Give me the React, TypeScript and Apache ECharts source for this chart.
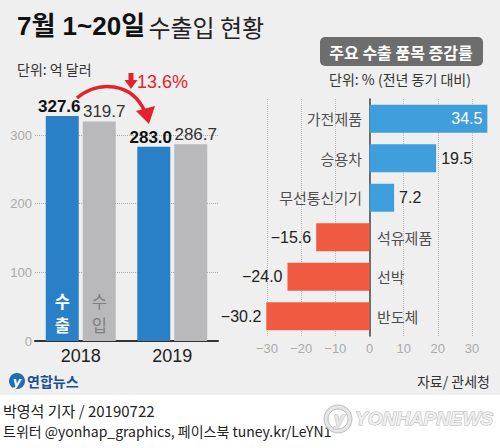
import React, { useEffect, useRef } from "react";
import * as echarts from "echarts";

const years = ["2018", "2019"];
const exportsVal = [327.6, 283.0];
const importsVal = [319.7, 286.7];
const items = ["가전제품", "승용차", "무선통신기기", "석유제품", "선박", "반도체"];
const changes = [34.5, 19.5, 7.2, -15.6, -24.0, -30.2];
const dropText = "13.6%";

const NF = "'Liberation Sans','Noto Sans CJK KR',sans-serif";
const KF = "'Noto Sans CJK KR',sans-serif";
const BLUE = "#2a80c6";
const GRAY = "#b9b9bb";
const POS = "#3f9fdc";
const NEG = "#f05a40";
const RED = "#e3232b";

const fmt = (v: number) => (v < 0 ? "\u2212" + Math.abs(v).toFixed(1) : v.toFixed(1));

export default function App() {
  const ref = useRef<HTMLDivElement>(null);
  useEffect(() => {
    const chart = echarts.init(ref.current!, undefined, { renderer: "svg" });
    const option: any = {
      animation: false,
      backgroundColor: "#efefef",
      grid: [
        { left: 35, width: 183, top: 135, height: 206 },
        { left: 267, width: 205, top: 99, height: 237 },
      ],
      xAxis: [
        {
          type: "category",
          gridIndex: 0,
          data: years,
          axisLine: { lineStyle: { color: "#333", width: 2 } },
          axisTick: { show: false },
          axisLabel: { fontSize: 18, color: "#222", margin: 6, fontFamily: NF },
        },
        {
          type: "value",
          gridIndex: 1,
          min: -30,
          max: 30,
          interval: 10,
          axisLine: { show: false },
          axisTick: { show: false },
          axisLabel: {
            fontSize: 13,
            color: "#aaa",
            margin: 6,
            fontFamily: NF,
            formatter: (v: number) => (v < 0 ? "\u2212" + Math.abs(v) : String(v)),
          },
          splitLine: { lineStyle: { type: "dotted", color: "#bbb" } },
        },
      ],
      yAxis: [
        {
          type: "value",
          gridIndex: 0,
          min: 0,
          max: 300,
          interval: 100,
          axisLine: { show: false },
          axisTick: { show: false },
          axisLabel: { fontSize: 13, color: "#aaa", margin: 3, fontFamily: NF },
          splitLine: { lineStyle: { type: "dotted", color: "#aaa" } },
        },
        {
          type: "category",
          gridIndex: 1,
          data: items,
          inverse: true,
          axisLine: { show: true, onZero: true, lineStyle: { color: "#444", width: 1.5 } },
          axisTick: { show: false },
          axisLabel: { show: false },
          splitLine: { show: false },
        },
      ],
      series: [
        {
          type: "bar",
          xAxisIndex: 0,
          yAxisIndex: 0,
          data: exportsVal,
          barWidth: 33,
          barGap: "12%",
          clip: false,
          itemStyle: { color: BLUE },
          label: {
            show: true,
            position: "top",
            distance: 1,
            offset: [-3, 0],
            fontSize: 17,
            fontWeight: "bold",
            color: "#111",
            fontFamily: NF,
            formatter: (p: any) => p.value.toFixed(1),
          },
        },
        {
          type: "bar",
          xAxisIndex: 0,
          yAxisIndex: 0,
          data: importsVal,
          barWidth: 33,
          clip: false,
          itemStyle: { color: GRAY },
          label: {
            show: true,
            position: "top",
            distance: 1,
            offset: [5, 0],
            fontSize: 17,
            color: "#333",
            fontFamily: NF,
            formatter: (p: any) => p.value.toFixed(1),
          },
        },
        {
          type: "bar",
          xAxisIndex: 1,
          yAxisIndex: 1,
          barWidth: 28,
          clip: false,
          data: changes.map((v, i) => ({
            value: v,
            itemStyle: { color: v >= 0 ? POS : NEG },
            label: {
              position: i === 0 ? "insideRight" : v >= 0 ? "right" : "left",
              color: i === 0 ? "#fff" : "#222",
              distance: 5,
            },
          })),
          label: {
            show: true,
            fontSize: 16,
            fontFamily: NF,
            formatter: (p: any) => fmt(p.value),
          },
        },
        {
          type: "scatter",
          xAxisIndex: 1,
          yAxisIndex: 1,
          symbolSize: 1,
          itemStyle: { color: "rgba(0,0,0,0)" },
          data: items.map((n, i) => ({
            value: [0, i],
            name: n,
            label: { position: changes[i] >= 0 ? "left" : "right" },
          })),
          label: {
            show: true,
            distance: 7,
            fontSize: 15,
            color: "#222",
            fontFamily: KF,
            formatter: (p: any) => p.name,
          },
        },
      ],
    };
    chart.setOption(option);

    const c0 = chart.convertToPixel({ xAxisIndex: 0 }, years[0]) as number;
    const y0 = chart.convertToPixel({ yAxisIndex: 0 }, 0) as number;
    const off = 18.5;
    const ex = c0 - off;
    const im = c0 + off;

    const barChar = (ch: string, x: number, y: number, bold: boolean, fill: string) => ({
      type: "text",
      z: 100,
      x,
      y,
      style: {
        text: ch,
        fontSize: 16.5,
        fontWeight: bold ? "bold" : "normal",
        fill,
        align: "center",
        verticalAlign: "middle",
        fontFamily: KF,
      },
    });

    chart.setOption({
      graphic: [
        {
          type: "text",
          left: 17,
          top: 13,
          style: {
            text: "{a|7월 1~20일} {b|수출입 현황}",
            rich: {
              a: { fontSize: 26, fontWeight: "bold", fill: "#111", fontFamily: NF },
              b: { fontSize: 24, fill: "#222", fontFamily: KF },
            },
          },
        },
        {
          type: "text",
          left: 17,
          top: 62,
          style: { text: "단위: 억 달러", fontSize: 14, fill: "#333", fontFamily: KF },
        },
        // drop arrow
        {
          type: "bezierCurve",
          z: 50,
          shape: { x1: 77, y1: 98, cpx1: 98, cpy1: 80, cpx2: 132, cpy2: 82, x2: 145, y2: 112 },
          style: { stroke: RED, lineWidth: 3.5, fill: null },
        },
        {
          type: "polygon",
          z: 50,
          shape: { points: [[136, 111], [155, 106], [149, 124]] },
          style: { fill: RED },
        },
        {
          type: "rect",
          shape: { x: 128.5, y: 73, width: 5, height: 8 },
          style: { fill: RED },
        },
        {
          type: "polygon",
          shape: { points: [[124.5, 80], [137.5, 80], [131, 89]] },
          style: { fill: RED },
        },
        {
          type: "text",
          x: 137,
          y: 82,
          style: {
            text: dropText,
            fontSize: 18,
            fill: RED,
            fontFamily: NF,
            verticalAlign: "middle",
          },
        },
        // labels inside bars
        barChar("수", ex, y0 - 40, true, "#fff"),
        barChar("출", ex, y0 - 16, true, "#fff"),
        barChar("수", im, y0 - 40, false, "#808080"),
        barChar("입", im, y0 - 16, false, "#808080"),
        // right header
        {
          type: "rect",
          shape: { x: 320, y: 37, width: 163, height: 29, r: 5 },
          style: { fill: "#6d6d6d" },
        },
        {
          type: "text",
          x: 401,
          y: 52,
          style: {
            text: "주요 수출 품목 증감률",
            fontSize: 16,
            fontWeight: "bold",
            fill: "#fff",
            align: "center",
            verticalAlign: "middle",
            fontFamily: KF,
          },
        },
        {
          type: "text",
          x: 400,
          y: 79,
          style: {
            text: "단위: % (전년 동기 대비)",
            fontSize: 14,
            fill: "#333",
            align: "center",
            verticalAlign: "middle",
            fontFamily: KF,
          },
        },
        {
          type: "text",
          x: 490,
          y: 381,
          style: {
            text: "자료/ 관세청",
            fontSize: 14,
            fill: "#333",
            align: "right",
            verticalAlign: "middle",
            fontFamily: KF,
          },
        },
        // logo
        {
          type: "circle",
          shape: { cx: 17, cy: 381, r: 8 },
          style: { fill: "#1d6fb8" },
        },
        {
          type: "text",
          x: 17,
          y: 381,
          style: {
            text: "y",
            fontSize: 13,
            fontStyle: "italic",
            fontWeight: "bold",
            fill: "#fff",
            align: "center",
            verticalAlign: "middle",
            fontFamily: "DejaVu Sans",
          },
        },
        {
          type: "text",
          x: 27,
          y: 381,
          style: {
            text: "연합뉴스",
            fontSize: 14,
            fontWeight: "bold",
            fill: "#1b4f94",
            verticalAlign: "middle",
            fontFamily: KF,
          },
        },
        // footer
        {
          type: "rect",
          shape: { x: 0, y: 395, width: 500, height: 53 },
          style: { fill: "#ffffff" },
        },
        {
          type: "text",
          x: 3,
          y: 410,
          style: {
            text: "박영석 기자 / 20190722",
            fontSize: 15,
            fill: "#222",
            verticalAlign: "middle",
            fontFamily: KF,
          },
        },
        {
          type: "text",
          x: 3,
          y: 431,
          style: {
            text: "트위터 @yonhap_graphics, 페이스북 tuney.kr/LeYN1",
            fontSize: 14,
            fill: "#222",
            verticalAlign: "middle",
            fontFamily: KF,
          },
        },
        {
          type: "ring",
          shape: { cx: 338, cy: 419, r: 14, r0: 10 },
          style: { fill: "#e6e6e6", stroke: "#bdbdbd", lineWidth: 1 },
        },
        {
          type: "text",
          x: 339,
          y: 419,
          style: {
            text: "y",
            fontSize: 17,
            fontStyle: "italic",
            fontWeight: "bold",
            fill: "#e6e6e6",
            stroke: "#bdbdbd",
            lineWidth: 1,
            align: "center",
            verticalAlign: "middle",
            fontFamily: "DejaVu Sans",
          },
        },
        {
          type: "text",
          x: 355,
          y: 418,
          style: {
            text: "YONHAPNEWS",
            fontSize: 19,
            fontStyle: "italic",
            fontWeight: "bold",
            fill: "#eeeeee",
            stroke: "#b5b5b5",
            lineWidth: 1,
            verticalAlign: "middle",
            fontFamily: "'Liberation Sans',sans-serif",
          },
        },
      ],
    });
    return () => chart.dispose();
  }, []);
  return (
    <div
      ref={ref}
      style={{ position: "absolute", left: 0, top: 0, width: 500, height: 448 }}
    />
  );
}
